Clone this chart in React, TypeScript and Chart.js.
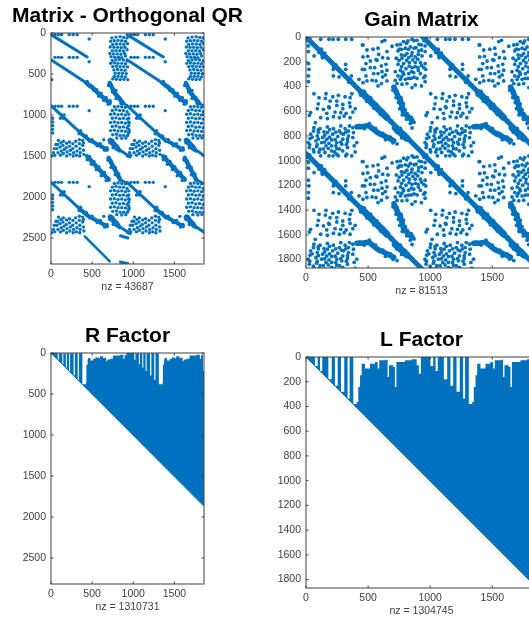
import React, { useEffect, useRef } from "react";
import { Chart, registerables } from "chart.js";

Chart.register(...registerables);

type P = number[];

const BLUE = "#0072BD";
const INK = "#404040";
const FONT = "'Liberation Sans', Arial, sans-serif";

const xTicks = [0, 500, 1000, 1500];
const yTicksWide = [0, 500, 1000, 1500, 2000, 2500];
const yTicksFine = [0, 200, 400, 600, 800, 1000, 1200, 1400, 1600, 1800];

const titles = ["Matrix - Orthogonal QR", "Gain Matrix", "R Factor", "L Factor"];
const nzLabels = ["nz = 43687", "nz = 81513", "nz = 1310731", "nz = 1304745"];

/* ---------- Orthogonal QR matrix ---------- */
const qRowDots: P[] = [[48, 20], [89, 20], [129, 20], [222, 20], [270, 20], [318, 20], [464, 73]];
const qRowDotOffsets: P[] = [[0, 0], [0, 277], [0, 874], [0, 1801], [925, 0], [925, 277], [925, 874], [925, 1801]];
const qClusterA: P[] = [
  [740, 60], [790, 50], [840, 45], [885, 55], [925, 60], [725, 100], [770, 95], [815, 90], [860, 95], [905, 100],
  [750, 140], [795, 135], [840, 135], [885, 140], [930, 130], [720, 170], [765, 175], [810, 175], [855, 180], [900, 175],
  [745, 215], [790, 215], [835, 215], [880, 220], [925, 205], [715, 250], [760, 255], [805, 255], [850, 260], [895, 250],
  [730, 290], [775, 295], [820, 295], [860, 300], [905, 280],
];
const qClusterB: P[] = [
  [745, 335], [790, 330], [835, 325], [880, 330], [925, 340], [725, 370], [770, 365], [815, 370], [860, 370], [905, 375],
  [750, 410], [795, 405], [840, 410], [885, 410], [930, 415], [765, 450], [810, 445], [855, 450], [900, 455],
  [780, 490], [825, 490], [870, 490], [915, 495], [770, 530], [815, 530], [860, 530], [905, 535],
  [750, 560], [795, 565], [840, 568], [885, 565],
];
const qClusterC: P[] = [
  [770, 900], [815, 895], [860, 900], [905, 905], [745, 945], [790, 935], [835, 945], [880, 945], [925, 960],
  [725, 990], [770, 985], [815, 995], [860, 990], [905, 1000], [945, 990], [745, 1040], [790, 1035], [835, 1045], [880, 1040], [925, 1050],
  [725, 1090], [770, 1085], [815, 1095], [860, 1090], [905, 1100], [950, 1095], [745, 1140], [790, 1135], [835, 1150], [880, 1145], [925, 1155],
  [725, 1190], [770, 1185], [815, 1195], [860, 1195], [905, 1200], [950, 1200], [750, 1240], [795, 1235], [840, 1250], [885, 1250], [930, 1250],
  [800, 1280], [860, 1285], [910, 1280],
];
const qClusterD: P[] = [
  [60, 1360], [40, 1410], [30, 1460], [8, 1500], [45, 1490], [90, 1310], [80, 1360], [70, 1410], [85, 1460],
  [120, 1340], [110, 1390], [125, 1440], [115, 1490], [150, 1320], [145, 1370], [160, 1420], [150, 1470],
  [190, 1345], [185, 1400], [195, 1450], [190, 1500], [225, 1330], [225, 1380], [235, 1430], [230, 1480],
  [265, 1350], [265, 1410], [275, 1460], [270, 1500], [300, 1320], [305, 1380], [315, 1440], [310, 1490],
  [345, 1300], [345, 1350], [350, 1410], [355, 1460], [350, 1500], [385, 1310], [385, 1370], [395, 1430], [400, 1480], [395, 1340],
];
const qLeftDots: P[] = [[8, 569], [20, 1040], [20, 1085], [20, 1130], [20, 1175], [20, 1220], [137, 1017], [115, 1040], [160, 1000], [125, 1000], [150, 1040], [359, 1190], [340, 1230], [380, 1240]];
const qBlobsUpper: P[] = [
  [440, 590], [470, 650], [500, 650], [520, 700], [555, 690], [580, 770], [610, 735], [640, 820], [670, 785], [695, 870], [720, 825],
  [700, 640], [735, 650], [745, 720], [790, 700], [790, 800], [835, 790], [850, 860],
];
const qBlobsLower: P[] = [
  [400, 1255], [430, 1255], [470, 1320], [500, 1300], [560, 1375], [600, 1350], [650, 1430], [680, 1400], [641, 1301],
  [715, 1340], [750, 1310], [755, 1400], [800, 1375], [835, 1440],
];
const qBlobsBridge: P[] = [
  [470, 1510], [440, 1545], [520, 1565], [490, 1600], [580, 1630], [550, 1665], [650, 1700], [610, 1740], [700, 1770], [670, 1800],
  [690, 1550], [730, 1560], [730, 1640], [780, 1640], [780, 1730], [825, 1720],
];
const qStreak1: P[] = [[0, 20], [440, 293]];
const qStreak2: P[] = [[0, 325], [431, 610]];
const qStreak2b: P[] = [[431, 610], [520, 680], [600, 760], [714, 854]];
const qStreak2c: P[] = [[714, 610], [774, 732], [875, 854]];
const qStreak2d: P[] = [[875, 854], [925, 886]];
const qStreak3: P[] = [[0, 886], [359, 1219]];
const qStreak3b: P[] = [[359, 1219], [460, 1301], [570, 1360], [681, 1423]];
const qStreak3c: P[] = [[722, 1310], [810, 1410]];
const qStreak3d: P[] = [[810, 1410], [963, 1512]];
const qStreak3e: P[] = [[439, 1504], [701, 1789]];
const qStreak3f: P[] = [[701, 1524], [842, 1789]];
const qStreak3g: P[] = [[842, 1789], [925, 1830]];
const qTail: P[] = [[411, 2480], [714, 2785]];
const qBit1: P[] = [[843, 2472], [935, 2500]];
const qBit2: P[] = [[843, 2793], [935, 2813]];
const colOffsets: P[] = [[0, 0], [925, 0]];
const colOffsetsLow: P[] = [[0, 935], [925, 935]];

/* ---------- Gain matrix ---------- */
const gainOffsets: P[] = [[0, 0], [940, 0], [0, 943], [940, 943]];
const gainUpper: P[] = [
  [612, 37], [634, 27], [459, 64], [693, 75], [580, 91], [540, 99], [491, 105], [652, 118], [585, 140], [497, 156], [459, 161], [617, 167],
  [660, 172], [564, 183], [518, 194], [483, 215], [644, 221], [607, 234], [572, 188], [518, 248], [652, 269], [612, 280], [580, 296],
  [545, 296], [483, 315], [639, 307], [532, 350], [564, 355], [491, 355], [459, 369], [607, 377], [652, 355], [580, 396], [617, 323], [553, 248], [472, 261],
  [733, 64], [752, 99], [786, 37], [821, 32], [854, 18], [894, 27], [929, 64], [886, 86], [840, 80], [800, 91], [768, 145], [741, 113],
  [813, 134], [854, 126], [907, 113], [934, 153], [880, 161], [827, 167], [773, 172], [727, 172], [741, 221], [786, 215], [832, 207],
  [880, 207], [921, 207], [948, 248], [902, 248], [854, 248], [805, 256], [760, 269], [719, 280], [741, 315], [786, 301], [827, 296],
  [867, 288], [921, 296], [948, 328], [894, 334], [848, 334], [800, 342], [760, 342], [719, 350], [773, 382], [813, 377], [880, 388],
  [929, 396], [854, 409], [733, 377],
  [760, 60], [810, 50], [870, 30], [910, 60], [770, 100], [825, 100], [870, 90], [930, 105], [795, 150], [850, 150], [905, 140],
  [750, 190], [810, 190], [860, 185], [900, 180], [770, 240], [830, 235], [880, 240], [930, 230], [780, 285], [850, 280], [905, 270], [770, 320], [825, 335], [870, 325],
];
const gainTopDots: P[] = [[118, 18], [185, 18], [218, 18], [260, 18], [320, 18], [368, 18]];
const gainSideDots: P[] = [[19, 72], [19, 118], [19, 215], [24, 261], [19, 315], [19, 361]];
const gainNearDots: P[] = [[105, 126], [124, 99], [320, 221], [320, 261], [220, 315], [266, 323], [365, 315], [427, 342], [454, 261], [454, 64], [220, 261], [65, 153], [132, 167], [854, 735], [733, 865]];
const gainBlobs: P[] = [
  [700, 430], [735, 440], [725, 490], [765, 490], [745, 530], [785, 540], [755, 580], [800, 590], [775, 630], [815, 620], [810, 665], [850, 650], [840, 700], [870, 690],
  [430, 715], [470, 740], [510, 700], [530, 740], [560, 740], [590, 790], [620, 780], [640, 830], [680, 810], [700, 855],
  [470, 440], [440, 470], [520, 490], [490, 520], [570, 545], [545, 575], [620, 600], [600, 625], [760, 740], [730, 770], [800, 785], [770, 815], [690, 680], [680, 690],
  [30, 10], [10, 30], [150, 130], [130, 150], [240, 225], [225, 245], [360, 345], [345, 365],
];
const gainDiag: P[] = [[0, 0], [940, 940]];
const gainDiagThick1: P[] = [[450, 450], [650, 650]];
const gainDiagThick2: P[] = [[719, 735], [813, 820]];
const gainUpStreak: P[] = [[708, 405], [741, 479], [760, 510], [786, 609], [854, 676]];
const gainLowStreak: P[] = [[410, 725], [451, 725], [505, 716], [572, 770], [652, 811], [706, 838]];

/* ---------- R and L factor profiles: column, first filled row ---------- */
const rProfile: P[] = [
  [0, 0], [82, 82], [96, 4], [138, 138], [150, 4], [180, 180], [192, 4], [220, 220], [232, 4], [275, 275], [290, 4], [325, 325], [340, 4], [381, 381],
  [425, 360], [430, 142], [445, 80], [451, 60], [480, 90], [512, 70], [540, 55], [575, 65], [592, 40], [633, 60], [655, 55], [670, 100], [682, 80],
  [720, 70], [754, 32], [800, 30], [840, 22], [875, 20], [880, 70], [895, 25], [915, 0],
];
const lProfile: P[] = [
  [0, 0], [72, 72], [94, 0], [113, 113], [131, 0], [180, 180], [207, 0], [233, 233], [255, 0], [282, 282], [308, 0], [335, 335], [351, 0], [381, 381],
  [408, 364], [421, 243], [435, 148], [448, 54], [475, 94], [515, 54], [555, 40], [577, 94], [590, 27], [641, 22], [657, 162], [668, 67], [703, 81],
  [716, 243], [728, 40], [797, 27], [850, 19], [891, 67], [909, 135], [925, 0],
];
const profileOffsets: P[] = [[0, 0], [930, 0]];
const rEnd: P[] = [[1848, 220], [1860, 220]];
const lEnd: P[] = [[1860, 40]];
const rDiagonal: P[] = [[0, 0], [1860, 1870]];
const lDiagonal: P[] = [[0, 0], [1860, 1868]];

const toXY = (pts: P[]) => pts.map(([x, y]) => ({ x, y }));
const shift = (pts: P[], offs: P[]) => offs.map(([dx, dy]) => pts.map(([x, y]) => [x + dx, y + dy]));

const dots = (pts: P[], radius: number) => ({
  type: "scatter", data: toXY(pts), showLine: false, pointRadius: radius, borderWidth: 0,
  pointBackgroundColor: BLUE, pointBorderWidth: 0,
});
const stroke = (pts: P[], width: number) => ({
  type: "scatter", data: toXY(pts), showLine: true, pointRadius: 0, borderColor: BLUE,
  borderWidth: width, borderCapStyle: "round", borderJoinStyle: "round",
});
const strokes = (pts: P[], offs: P[], width: number) => shift(pts, offs).map((s) => stroke(s, width));
const dotSets = (pts: P[], offs: P[], radius = 1.7) => shift(pts, offs).map((s) => dots(s, radius));

const qrDatasets = [
  ...dotSets(qRowDots, qRowDotOffsets),
  ...dotSets(qClusterA, colOffsets),
  ...dotSets(qClusterB, colOffsets),
  ...dotSets(qClusterC, colOffsets),
  ...dotSets(qClusterC, colOffsetsLow),
  ...dotSets(qClusterD, colOffsets),
  ...dotSets(qClusterD, colOffsetsLow),
  ...dotSets(qLeftDots.slice(1), colOffsetsLow),
  ...dotSets(qLeftDots, colOffsets),
  ...dotSets(qBlobsUpper, colOffsets),
  ...dotSets(qBlobsLower, colOffsets),
  ...dotSets(qBlobsLower, colOffsetsLow),
  ...dotSets(qBlobsBridge, colOffsets),
  ...strokes(qStreak1, colOffsets, 3),
  ...strokes(qStreak2, colOffsets, 3),
  ...strokes(qStreak2b, colOffsets, 4.5),
  ...strokes(qStreak2c, colOffsets, 4.5),
  ...strokes(qStreak2d, colOffsets, 2.5),
  ...[colOffsets, colOffsetsLow].flatMap((o) => [
    ...strokes(qStreak3, o, 3),
    ...strokes(qStreak3b, o, 4),
    ...strokes(qStreak3c, o, 5.5),
    ...strokes(qStreak3d, o, 3),
  ]),
  ...strokes(qStreak3e, colOffsets, 4.5),
  ...strokes(qStreak3f, colOffsets, 4.5),
  ...strokes(qStreak3g, colOffsets, 2.5),
  stroke(qTail, 2.5),
  stroke(qBit1, 3),
  stroke(qBit2, 3),
];

const gainDatasets = [
  ...dotSets(gainUpper, gainOffsets, 1.9),
  ...dotSets(gainUpper.map(([x, y]) => [y, x]), gainOffsets, 1.9),
  ...dotSets(gainTopDots, gainOffsets, 1.9),
  ...dotSets(gainSideDots, gainOffsets, 1.9),
  ...dotSets(gainNearDots, gainOffsets, 1.9),
  ...dotSets(gainBlobs, gainOffsets, 1.9),
  ...strokes(gainDiag, gainOffsets, 5),
  ...strokes(gainDiagThick1, gainOffsets, 7),
  ...strokes(gainDiagThick2, gainOffsets, 7),
  ...strokes(gainUpStreak, gainOffsets, 5.5),
  ...strokes(gainLowStreak, gainOffsets, 5.5),
];

const profileDatasets = (profile: P[], end: P[], diagonal: P[]) => [
  {
    type: "scatter",
    data: toXY([...shift(profile, profileOffsets).flat(), ...end]),
    showLine: true, stepped: true, pointRadius: 0, borderWidth: 0,
    borderColor: BLUE, backgroundColor: BLUE, fill: "+1",
  },
  {
    type: "scatter", data: toXY(diagonal), showLine: true, pointRadius: 0,
    borderWidth: 1, borderColor: BLUE, fill: false,
  },
];

const frame = {
  id: "frame",
  afterDraw(chart: any) {
    const { ctx, chartArea: a, scales } = chart;
    ctx.save();
    ctx.strokeStyle = INK;
    ctx.lineWidth = 1;
    ctx.strokeRect(a.left, a.top, a.right - a.left, a.bottom - a.top);
    ctx.beginPath();
    for (const t of scales.x.ticks) {
      const p = scales.x.getPixelForValue(t.value);
      ctx.moveTo(p, a.bottom); ctx.lineTo(p, a.bottom - 2.5);
      ctx.moveTo(p, a.top); ctx.lineTo(p, a.top + 2.5);
    }
    for (const t of scales.y.ticks) {
      const p = scales.y.getPixelForValue(t.value);
      ctx.moveTo(a.left, p); ctx.lineTo(a.left + 2.5, p);
      ctx.moveTo(a.right, p); ctx.lineTo(a.right - 2.5, p);
    }
    ctx.stroke();
    ctx.restore();
  },
};

const PLOT = { axisW: 51, titleH: 33, axisH: 30, high: 231 };

function Panel(props: { left: number; top: number; plotW: number; title: string; nz: string; yMax: number; yTicks: number[]; datasets: any[] }) {
  const ref = useRef<HTMLCanvasElement>(null);
  const width = PLOT.axisW * 2 + props.plotW;
  const height = PLOT.titleH + PLOT.high + PLOT.axisH;
  useEffect(() => {
    const setTicks = (vals: number[]) => (s: any) => { s.ticks = vals.map((value) => ({ value })); };
    const tickFont = { family: FONT, size: 10.5 };
    const gridOff = { display: false, drawTicks: false };
    const chart = new Chart(ref.current as HTMLCanvasElement, {
      type: "scatter",
      data: { datasets: props.datasets },
      plugins: [frame],
      options: {
        animation: false,
        responsive: false,
        plugins: {
          legend: { display: false },
          tooltip: { enabled: false },
          title: {
            display: true, text: props.title, color: "#000",
            font: { family: FONT, size: 21, weight: "bold", lineHeight: "24px" },
            padding: { top: 4, bottom: 5 },
          },
        },
        scales: {
          x: {
            type: "linear", min: 0, max: 1860,
            grid: gridOff, border: { display: false },
            afterBuildTicks: setTicks(xTicks),
            afterFit: (s: any) => { s.height = PLOT.axisH; },
            ticks: { padding: 4, color: INK, font: tickFont, maxRotation: 0, autoSkip: false, callback: (v: any) => String(v) },
            title: { display: true, text: props.nz, color: INK, font: tickFont, padding: { top: 0, bottom: 1 } },
          },
          y: {
            type: "linear", reverse: true, min: 0, max: props.yMax,
            grid: gridOff, border: { display: false },
            afterBuildTicks: setTicks(props.yTicks),
            afterFit: (s: any) => { s.width = PLOT.axisW; },
            ticks: { padding: 5, color: INK, font: tickFont, autoSkip: false, callback: (v: any) => String(v) },
          },
          spacer: {
            type: "linear", position: "right", min: 0, max: 1,
            grid: gridOff, border: { display: false },
            afterFit: (s: any) => { s.width = PLOT.axisW; },
            ticks: { display: false },
          },
        },
      },
    } as any);
    return () => chart.destroy();
  }, []);
  return (
    <canvas
      ref={ref}
      width={width}
      height={height}
      style={{ position: "absolute", left: props.left, top: props.top, width, height, display: "block", filter: "blur(0.45px)" }}
    />
  );
}

export default function App() {
  return (
    <div style={{ position: "fixed", left: 0, top: 0, width: 529, height: 619, overflow: "hidden", background: "#fff" }}>
      <Panel left={0} top={0} plotW={153} title={titles[0]} nz={nzLabels[0]} yMax={2817} yTicks={yTicksWide} datasets={qrDatasets} />
      <Panel left={255} top={4} plotW={231} title={titles[1]} nz={nzLabels[1]} yMax={1868} yTicks={yTicksFine} datasets={gainDatasets} />
      <Panel left={0} top={320} plotW={153} title={titles[2]} nz={nzLabels[2]} yMax={2817} yTicks={yTicksWide} datasets={profileDatasets(rProfile, rEnd, rDiagonal)} />
      <Panel left={255} top={324} plotW={231} title={titles[3]} nz={nzLabels[3]} yMax={1868} yTicks={yTicksFine} datasets={profileDatasets(lProfile, lEnd, lDiagonal)} />
    </div>
  );
}
